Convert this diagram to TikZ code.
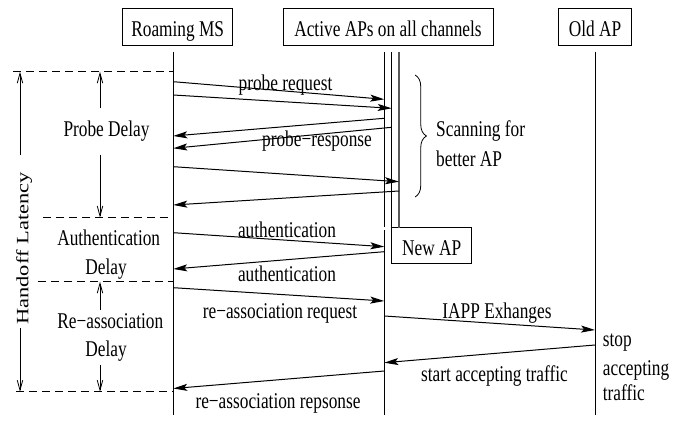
\documentclass[tikz,border=0pt]{standalone}
\usepackage{fontspec}
\setmainfont{Liberation Serif}
\usetikzlibrary{arrows.meta,decorations.pathreplacing}
\newcommand\vs[1]{\scalebox{1}[1.3]{#1}}
\newcommand\hs[1]{\scalebox{1.3}[1]{#1}}
\begin{document}
\begin{tikzpicture}[x=1pt,y=-1pt,
 every node/.style={font=\fontsize{17.3}{20}\selectfont, inner sep=0pt},
 lbl/.style={anchor=base},
 lblw/.style={anchor=base west},
 actor/.style={draw, line width=1pt, text height=22pt, text depth=2pt, minimum height=36.7pt, inner sep=0pt},
 life/.style={line width=1pt},
 life3/.style={line width=1.3pt, black!65},
 msg/.style={line width=1pt, -{Stealth[length=14pt,width=7pt,inset=3pt]}},
 span/.style={line width=0.8pt, -{Straight Barb[length=10pt,width=5.5pt]}},
 sep/.style={line width=1pt, dash pattern=on 8pt off 5pt}]
\useasboundingbox (0,0) rectangle (683,425);

% actors
\node[actor, minimum width=110pt] (ms) at (177.7,26.7) {\vs{Roaming MS}};
\node[actor, minimum width=210pt] (aps) at (388,26.7) {\vs{Active APs on all channels}};
\node[actor, minimum width=73.4pt] (old) at (595,26.7) {\vs{Old AP}};
\node[actor, minimum width=80pt, minimum height=36.3pt] (new) at (431.7,245.8) {\vs{New AP}};

% lifelines
\coordinate (msT) at (173.3,52); \coordinate (msB) at (173.3,415);
\coordinate (a1T) at (384.3,52); \coordinate (a1M) at (384.3,227);
\coordinate (a1N) at (384.3,230); \coordinate (a1B) at (384.3,415);
\coordinate (a2T) at (391.7,52); \coordinate (a2B) at (391.7,227.7);
\coordinate (a3T) at (399,52); \coordinate (a3B) at (399,227.7);
\coordinate (oT) at (595,52); \coordinate (oB) at (595,415);
\draw[life] (msT) -- (msB);
\draw[life] (a1T) -- (a1M);
\draw[life] (a1N) -- (a1B);
\draw[life] (a2T) -- (a2B);
\draw[life3] (a3T) -- (a3B);
\draw[life] (oT) -- (oB);

% messages
\coordinate (s1) at (173.3,81.7);  \coordinate (e1) at (384.3,99.3);
\coordinate (s2) at (173.3,95);    \coordinate (e2) at (391.7,108.3);
\coordinate (s3) at (384.3,118.3); \coordinate (e3) at (173.3,136);
\coordinate (s4) at (391.7,127.3); \coordinate (e4) at (173.3,148.3);
\coordinate (s5) at (173.3,166.7); \coordinate (e5) at (399,181.7);
\coordinate (s6) at (399,191);     \coordinate (e6) at (173.3,205);
\coordinate (s7) at (173.3,232.7); \coordinate (e7) at (384.3,246.7);
\coordinate (s8) at (384.3,251.7); \coordinate (e8) at (173.3,269);
\coordinate (s9) at (173.3,287.7); \coordinate (e9) at (384.3,301);
\coordinate (s10) at (384.3,316);  \coordinate (e10) at (595,330);
\coordinate (s11) at (595,345);    \coordinate (e11) at (384.3,362.7);
\coordinate (s12) at (384.3,371);  \coordinate (e12) at (173.3,388.5);
\foreach \i in {1,...,12} {\draw[msg] (s\i) -- (e\i);}

% message labels
\node[lbl] (l1) at (285.5,90.5) {\vs{probe request}};
\node[lbl] (l2) at (317,147) {\vs{probe−response}};
\node[lbl] (l3) at (287,237.3) {\vs{authentication}};
\node[lbl] (l4) at (287,281.7) {\vs{authentication}};
\node[lbl] (l5) at (280,318.3) {\vs{re−association request}};
\node[lbl] (l6) at (278,408.3) {\vs{re−association repsonse}};
\node[lbl] (l7) at (497,318.3) {\vs{IAPP Exhanges}};
\node[lbl] (l8) at (494.5,381.7) {\vs{start accepting traffic}};
\node[lblw] (st1) at (602.7,346.7) {\vs{stop}};
\node[lblw] (st2) at (602.7,375) {\vs{accepting}};
\node[lblw] (st3) at (602.7,400) {\vs{traffic}};

% scanning brace
\coordinate (bT) at (415,75); \coordinate (bB) at (415,197);
\draw[line width=0.8pt, decorate, decoration={brace, amplitude=11.5pt}] (bT) -- (bB);
\node[lblw] (sc1) at (436,137) {\vs{Scanning for}};
\node[lblw] (sc2) at (436,166.7) {\vs{better AP}};

% separators
\coordinate (d1a) at (13,71.7);  \coordinate (d1b) at (173.3,71.7);
\coordinate (d2a) at (43,217.5); \coordinate (d2b) at (173.3,217.5);
\coordinate (d3a) at (38,281.7); \coordinate (d3b) at (173.3,281.7);
\coordinate (d4a) at (16,391.7); \coordinate (d4b) at (173.3,391.7);
\draw[sep] (d1a) -- (d1b);
\draw[sep] (d2a) -- (d2b);
\draw[sep] (d3a) -- (d3b);
\draw[sep] (d4a) -- (d4b);

% delay spans
\coordinate (p1) at (100,108); \coordinate (p0) at (100,71.7);
\coordinate (p2) at (100,155); \coordinate (p3) at (100,217.5);
\draw[span] (p1) -- (p0);
\draw[span] (p2) -- (p3);
\coordinate (r1) at (100,310); \coordinate (r0) at (100,281.7);
\coordinate (r2) at (100,365); \coordinate (r3) at (100,391.7);
\draw[span] (r1) -- (r0);
\draw[span] (r2) -- (r3);
\coordinate (h1) at (20,155); \coordinate (h0) at (20,71.7);
\coordinate (h2) at (20,328); \coordinate (h3) at (20,391.7);
\draw[span] (h1) -- (h0);
\draw[span] (h2) -- (h3);

\node[lbl] (pd) at (106.5,137) {\vs{Probe Delay}};
\node[lbl] (ad1) at (108.7,245.7) {\vs{Authentication}};
\node[lbl] (ad2) at (106,274) {\vs{Delay}};
\node[lbl] (rd1) at (110.3,328.3) {\vs{Re−association}};
\node[lbl] (rd2) at (106,356.7) {\vs{Delay}};
\node[anchor=base, rotate=90] (hl) at (28.3,248.5) {\hs{Handoff Latency}};
\end{tikzpicture}
\end{document}
